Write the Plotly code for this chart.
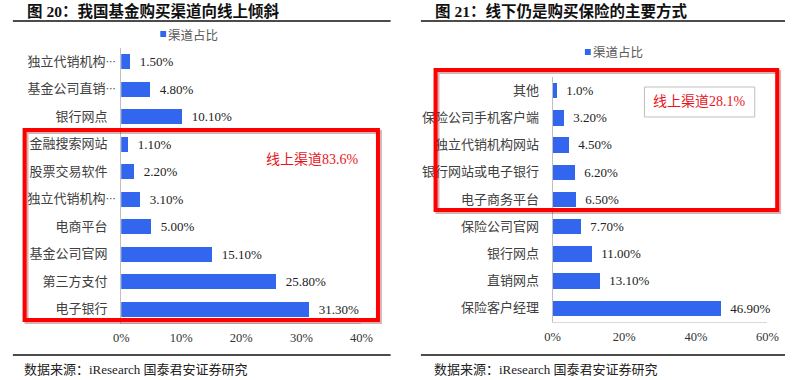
import plotly.graph_objects as go

W, H = 796, 380

# ---------------- data ----------------
series_name = "渠道占比"

left_title = "图 20：我国基金购买渠道向线上倾斜"
left_categories = ["独立代销机构…", "基金公司直销…", "银行网点", "金融搜索网站", "股票交易软件",
                   "独立代销机构…", "电商平台", "基金公司官网", "第三方支付", "电子银行"]
left_values = [1.5, 4.8, 10.1, 1.1, 2.2, 3.1, 5.0, 15.1, 25.8, 31.3]
left_labels = ["1.50%", "4.80%", "10.10%", "1.10%", "2.20%", "3.10%", "5.00%", "15.10%", "25.80%", "31.30%"]
left_xticks = [0, 10, 20, 30, 40]
left_note = "线上渠道83.6%"

right_title = "图 21：线下仍是购买保险的主要方式"
right_categories = ["其他", "保险公司手机客户端", "独立代销机构网站", "银行网站或电子银行", "电子商务平台",
                    "保险公司官网", "银行网点", "直销网点", "保险客户经理"]
right_values = [1.0, 3.2, 4.5, 6.2, 6.5, 7.7, 11.0, 13.1, 46.9]
right_labels = ["1.0%", "3.20%", "4.50%", "6.20%", "6.50%", "7.70%", "11.00%", "13.10%", "46.90%"]
right_xticks = [0, 20, 40, 60]
right_note = "线上渠道28.1%"

source = "数据来源：iResearch 国泰君安证券研究"

# ---------------- style ----------------
BLUE = "#3366EE"
RED = "#FF0000"
SERIF = "Liberation Serif, Noto Sans CJK SC"
CJK = "Noto Sans CJK SC"


def fx(x):
    return x / W


def fy(y):
    return 1 - y / H


def tick_label(s):
    # truncated labels: the ellipsis hangs over toward the axis, as in the source chart
    if s.endswith("…"):
        return s[:-1] + "<span style='font-size:10px;letter-spacing:-8px'>…</span>"
    return s


fig = go.Figure()

fig.add_trace(go.Bar(
    orientation="h", x=left_values, y=list(range(len(left_values))),
    text=["  " + t for t in left_labels], textposition="outside", cliponaxis=False,
    textfont=dict(family=SERIF, size=13, color="#222222"),
    marker=dict(color=BLUE, line=dict(width=0)), width=0.55,
    name=series_name, showlegend=False, xaxis="x", yaxis="y"))

fig.add_trace(go.Bar(
    orientation="h", x=right_values, y=list(range(len(right_values))),
    text=["  " + t for t in right_labels], textposition="outside", cliponaxis=False,
    textfont=dict(family=SERIF, size=13, color="#222222"),
    marker=dict(color=BLUE, line=dict(width=0)), width=0.57,
    name=series_name, showlegend=False, xaxis="x2", yaxis="y2"))

axis_common_x = dict(showgrid=False, zeroline=False, ticks="", showline=True,
                     linecolor="#D9D9D9", linewidth=1,
                     tickfont=dict(family=SERIF, size=12.5, color="#333333"), fixedrange=True)
axis_common_y = dict(showgrid=False, zeroline=False, ticks="", showline=True,
                     linecolor="#BFBFBF", linewidth=1, ticklabelstandoff=10,
                     tickfont=dict(family=CJK, size=13, color="#404040"), fixedrange=True)

nL, nR = len(left_values), len(right_values)
fig.update_layout(
    width=W, height=H, margin=dict(l=0, r=0, t=0, b=0),
    paper_bgcolor="white", plot_bgcolor="white", bargap=0,
    xaxis=dict(domain=[fx(116), fx(362)], range=[0, 40], anchor="y",
               tickvals=left_xticks, ticktext=[f"{t}%" for t in left_xticks],
               ticklabelstandoff=3, **axis_common_x),
    yaxis=dict(domain=[fy(322.5), fy(47.5)], range=[nL - 0.5, -0.5], anchor="x",
               tickvals=list(range(nL)), ticktext=[tick_label(c) for c in left_categories],
               **axis_common_y),
    xaxis2=dict(domain=[fx(558), fx(778)], range=[0, 60], anchor="y2",
                tickvals=right_xticks, ticktext=[f"{t}%" for t in right_xticks],
                ticklabelstandoff=3, **axis_common_x),
    yaxis2=dict(domain=[fy(321.5), fy(76.5)], range=[nR - 0.5, -0.5], anchor="x2",
                tickvals=list(range(nR)), ticktext=[tick_label(c) for c in right_categories],
                **axis_common_y),
)

shapes = []
annotations = []

# title rules and bottom rules
for x0, x1 in [(5, 392), (423, 796)]:
    shapes.append(dict(type="line", xref="paper", yref="paper", x0=fx(x0), x1=fx(x1),
                       y0=fy(21), y1=fy(21), line=dict(color="#111111", width=1.5)))
    shapes.append(dict(type="line", xref="paper", yref="paper", x0=fx(x0), x1=fx(x1),
                       y0=fy(355), y1=fy(355), line=dict(color="#111111", width=1.5)))

# titles
for txt, x0 in [(left_title, 17), (right_title, 435)]:
    annotations.append(dict(text="<b>" + txt + "</b>", xref="paper", yref="paper",
                            x=fx(x0), y=fy(11), xanchor="left", yanchor="middle",
                            showarrow=False, font=dict(family=SERIF, size=15.5, color="#111111")))

# sources
for x0 in [14, 434]:
    annotations.append(dict(text=source, xref="paper", yref="paper",
                            x=fx(x0), y=fy(369), xanchor="left", yanchor="middle",
                            showarrow=False, font=dict(family=SERIF, size=13, color="#222222")))

# legends
for sx, ly in [(156, 34), (591, 52)]:
    shapes.append(dict(type="rect", xref="paper", yref="paper", x0=fx(sx), x1=fx(sx + 6),
                       y0=fy(ly + 3), y1=fy(ly - 3), fillcolor=BLUE, line=dict(width=0)))
    annotations.append(dict(text=series_name, xref="paper", yref="paper",
                            x=fx(sx + 6), y=fy(ly), xanchor="left", yanchor="middle",
                            showarrow=False, font=dict(family=CJK, size=12.5, color="#595959")))

# red highlight boxes with soft shadow
for (x0, y0, x1, y1) in [(17, 130, 379, 320), (438, 70, 788, 210)]:
    shapes.append(dict(type="rect", xref="paper", yref="paper",
                       x0=fx(x0 + 2), x1=fx(x1 + 2), y0=fy(y1 + 2), y1=fy(y0 + 2),
                       line=dict(color="rgba(120,0,0,0.30)", width=4)))
    shapes.append(dict(type="rect", xref="paper", yref="paper",
                       x0=fx(x0), x1=fx(x1), y0=fy(y1), y1=fy(y0),
                       line=dict(color=RED, width=4)))

# notes
annotations.append(dict(text=left_note, xref="paper", yref="paper", x=fx(312), y=fy(159),
                        xanchor="center", yanchor="middle", showarrow=False,
                        font=dict(family=SERIF, size=14, color="#E8141B")))
shapes.append(dict(type="rect", xref="paper", yref="paper", x0=fx(652), x1=fx(765),
                   y0=fy(117), y1=fy(87), fillcolor="white", line=dict(color="#BFBFBF", width=1)))
annotations.append(dict(text=right_note, xref="paper", yref="paper", x=fx(708.5), y=fy(102),
                        xanchor="center", yanchor="middle", showarrow=False,
                        font=dict(family=SERIF, size=14, color="#E8141B")))

fig.update_layout(shapes=shapes, annotations=annotations)

fig.write_html("out.html", config={"displayModeBar": False},
               post_script="document.body.style.margin='0';document.body.style.overflow='hidden';")
